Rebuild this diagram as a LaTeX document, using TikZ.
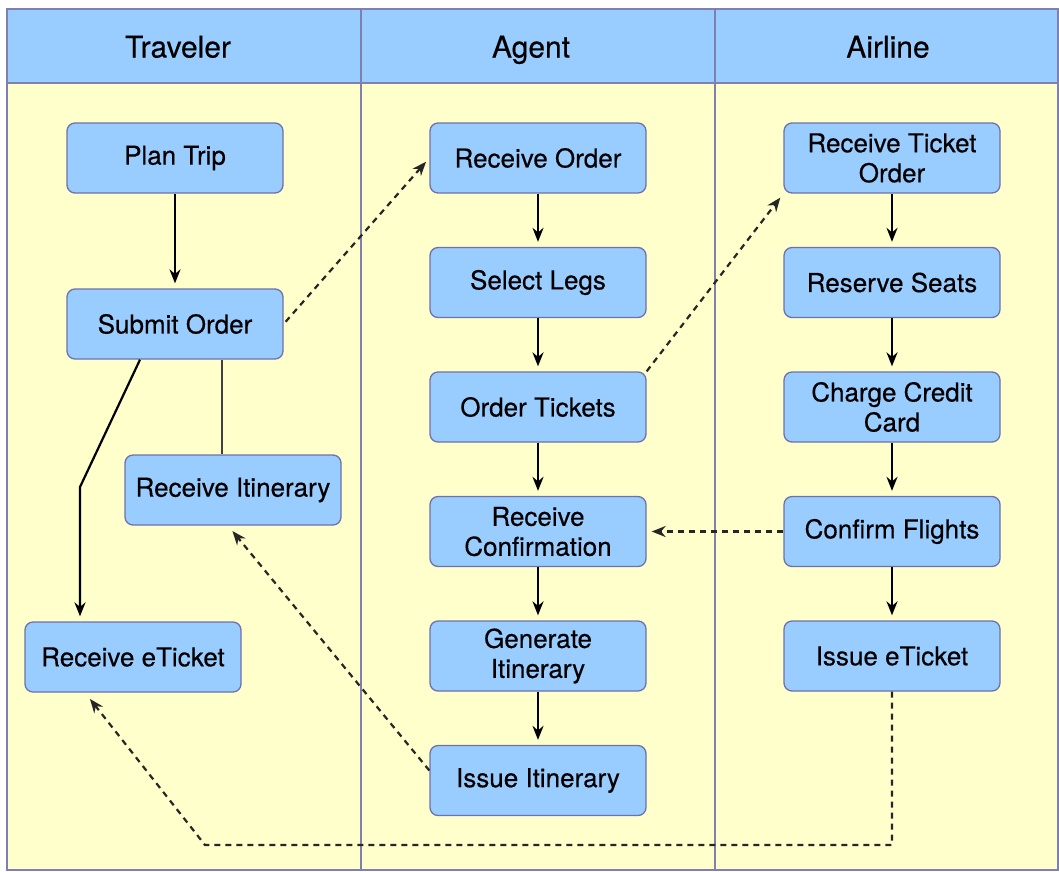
\documentclass[tikz,border=0pt]{standalone}
\usepackage{fontspec}
\setmainfont{TeX Gyre Heros}[FakeBold=0.35]
\usepackage{xcolor}
\definecolor{boxblue}{RGB}{153, 204, 255}
\definecolor{lanefill}{RGB}{255, 255, 204}
\definecolor{laneline}{RGB}{128, 128, 176}
\definecolor{boxline}{RGB}{112, 112, 172}
\usetikzlibrary{arrows.meta, positioning}

\begin{document}
\begin{tikzpicture}[x=1pt, y=-1pt, node distance=53.2pt,
        task/.style={rectangle, draw=boxline, fill=boxblue, rounded corners=8pt, line width=1.3pt, minimum width=216pt, minimum height=70pt, align=center, font=\fontsize{26}{30}\selectfont},
        lane/.style={font=\fontsize{30}{34}\selectfont, text height=21pt, text depth=6pt},
        line/.style={draw=black, line width=2.2pt, -{Stealth[length=14pt,width=11pt]}, shorten >=5pt},
        msg/.style={line, draw=black!85, dash pattern=on 6pt off 5pt}]

        \useasboundingbox (0,0) rectangle (1059,871);

        % swimlanes
        \fill[lanefill] (7,83) rectangle (1058,870);
        \fill[boxblue] (7,9) rectangle (1058,83);
        \draw[laneline, line width=2pt] (7,9) rectangle (1058,870);
        \draw[laneline, line width=2pt] (7,83) -- (1058,83);
        \draw[laneline, line width=2pt] (361,9) -- (361,870);
        \draw[laneline, line width=2pt] (715,9) -- (715,870);

        \node [lane] (hTraveler) at (178,50) {Traveler};
        \node [lane] (hAgent) at (531,50) {Agent};
        \node [lane] (hAirline) at (888,50) {Airline};

        % traveler
        \node [task] (plan) at (175,158) {Plan Trip};
        \node [task] (submit) at (175,324) {Submit Order};
        \node [task] (recvItin) at (233,490) {Receive Itinerary};
        \node [task] (recvETicket) at (133,657) {Receive eTicket};

        % agent
        \node [task] (recvOrder) at (538,158) {Receive Order};
        \node [task, below=of recvOrder] (legs) {Select Legs};
        \node [task, below=of legs] (orderTix) {Order Tickets};
        \node [task, below=of orderTix] (recvConf) {Receive\\Confirmation};
        \node [task, below=of recvConf] (genItin) {Generate\\Itinerary};
        \node [task, below=of genItin] (issueItin) {Issue Itinerary};

        % airline
        \node [task] (recvTixOrder) at (892,158) {Receive Ticket\\Order};
        \node [task, below=of recvTixOrder] (reserve) {Reserve Seats};
        \node [task, below=of reserve] (charge) {Charge Credit\\Card};
        \node [task, below=of charge] (confirm) {Confirm Flights};
        \node [task, below=of confirm] (issueETicket) {Issue eTicket};

        \coordinate (bend) at (80,487);
        \coordinate (corner) at (205,845);

        \path [line] (plan) -- (submit);
        \path [line] ([xshift=-35pt]submit.south) -- (bend) -- (bend |- recvETicket.north);
        \draw [black!75, line width=2.2pt] ([xshift=47pt]submit.south) -- ([xshift=47pt]submit.south |- recvItin.north);

        \path [line] (recvOrder) -- (legs);
        \path [line] (legs) -- (orderTix);
        \path [line] (orderTix) -- (recvConf);
        \path [line] (recvConf) -- (genItin);
        \path [line] (genItin) -- (issueItin);

        \path [line] (recvTixOrder) -- (reserve);
        \path [line] (reserve) -- (charge);
        \path [line] (charge) -- (confirm);
        \path [line] (confirm) -- (issueETicket);

        \path [msg, shorten <=3pt] (submit.east) -- (recvOrder.west);
        \path [msg] (orderTix.north east) -- (recvTixOrder.south west);
        \path [msg] (confirm.west) -- (recvConf.east);
        \path [msg, shorten >=7pt] ([yshift=10pt]issueItin.west) -- ([xshift=-5pt]recvItin.south);
        \path [msg, shorten >=8pt] (issueETicket.south) |- (corner) -- ([xshift=-48pt]recvETicket.south);
    \end{tikzpicture}
\end{document}
